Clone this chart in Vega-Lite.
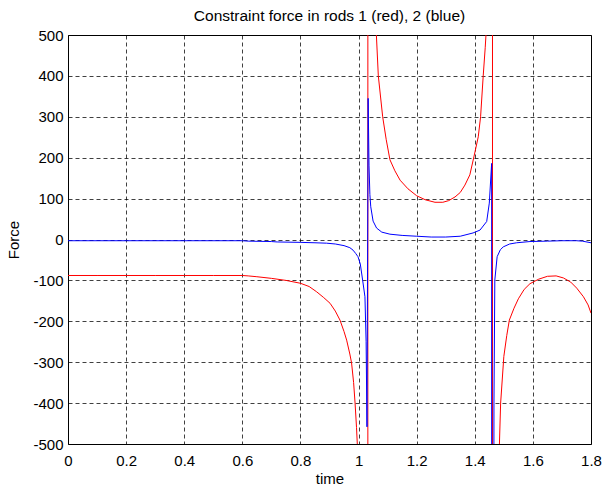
{
  "$schema": "https://vega.github.io/schema/vega-lite/v6.json",
  "width": 523,
  "height": 409,
  "autosize": {"type": "none"},
  "padding": {"left": 68, "top": 35, "right": 17, "bottom": 44},
  "background": "white",
  "config": {
    "view": {"stroke": "black", "strokeWidth": 1},
    "font": "Liberation Sans",
    "axis": {
      "labelFont": "Liberation Sans",
      "titleFont": "Liberation Sans",
      "labelFontSize": 15,
      "titleFontSize": 15,
      "titleFontWeight": "normal",
      "labelColor": "black",
      "titleColor": "black",
      "domain": false,
      "ticks": false,
      "grid": true,
      "gridColor": "#000000",
      "gridOpacity": 0.75,
      "gridDash": [4, 3],
      "gridWidth": 1,
      "labelFlush": false,
      "labelOverlap": false,
      "labelExpr": "'' + datum.value"
    }
  },
  "title": {
    "text": "Constraint force in rods 1 (red), 2 (blue)",
    "font": "Liberation Sans",
    "fontSize": 15.5,
    "fontWeight": "normal",
    "color": "black",
    "anchor": "middle",
    "offset": 4
  },
  "data": {
    "values": [
      {"rod": "1", "t": 0, "force": -88},
      {"rod": "1", "t": 0.1, "force": -88},
      {"rod": "1", "t": 0.2, "force": -88},
      {"rod": "1", "t": 0.3, "force": -88},
      {"rod": "1", "t": 0.4, "force": -88},
      {"rod": "1", "t": 0.5, "force": -88},
      {"rod": "1", "t": 0.6, "force": -88},
      {"rod": "1", "t": 0.62, "force": -89},
      {"rod": "1", "t": 0.65, "force": -91},
      {"rod": "1", "t": 0.7, "force": -95},
      {"rod": "1", "t": 0.75, "force": -100},
      {"rod": "1", "t": 0.8, "force": -107},
      {"rod": "1", "t": 0.83, "force": -115},
      {"rod": "1", "t": 0.856, "force": -128},
      {"rod": "1", "t": 0.88, "force": -142},
      {"rod": "1", "t": 0.902, "force": -156},
      {"rod": "1", "t": 0.92, "force": -175},
      {"rod": "1", "t": 0.936, "force": -197},
      {"rod": "1", "t": 0.95, "force": -225},
      {"rod": "1", "t": 0.959, "force": -246},
      {"rod": "1", "t": 0.97, "force": -280},
      {"rod": "1", "t": 0.976, "force": -302},
      {"rod": "1", "t": 0.983, "force": -350},
      {"rod": "1", "t": 0.988, "force": -400},
      {"rod": "1", "t": 0.993, "force": -460},
      {"rod": "1", "t": 0.997, "force": -520},
      {"rod": "1", "t": 1.005, "force": -700},
      {"rod": "1", "t": 1.015, "force": -1100},
      {"rod": "1", "t": 1.025, "force": -2500},
      {"rod": "1", "t": 1.031, "force": -20000},
      {"rod": "1", "t": 1.033, "force": 20000},
      {"rod": "1", "t": 1.045, "force": 1500},
      {"rod": "1", "t": 1.055, "force": 650},
      {"rod": "1", "t": 1.06, "force": 520},
      {"rod": "1", "t": 1.068, "force": 400},
      {"rod": "1", "t": 1.083, "force": 300},
      {"rod": "1", "t": 1.095, "force": 245},
      {"rod": "1", "t": 1.108, "force": 195},
      {"rod": "1", "t": 1.125, "force": 168},
      {"rod": "1", "t": 1.143, "force": 145},
      {"rod": "1", "t": 1.17, "force": 124},
      {"rod": "1", "t": 1.2, "force": 107},
      {"rod": "1", "t": 1.23, "force": 97},
      {"rod": "1", "t": 1.263, "force": 91},
      {"rod": "1", "t": 1.29, "force": 91},
      {"rod": "1", "t": 1.31, "force": 95},
      {"rod": "1", "t": 1.332, "force": 104},
      {"rod": "1", "t": 1.35, "force": 115},
      {"rod": "1", "t": 1.366, "force": 133},
      {"rod": "1", "t": 1.383, "force": 158},
      {"rod": "1", "t": 1.397, "force": 202},
      {"rod": "1", "t": 1.412, "force": 251},
      {"rod": "1", "t": 1.42, "force": 300},
      {"rod": "1", "t": 1.429, "force": 400},
      {"rod": "1", "t": 1.436, "force": 470},
      {"rod": "1", "t": 1.442, "force": 540},
      {"rod": "1", "t": 1.452, "force": 900},
      {"rod": "1", "t": 1.46, "force": 20000},
      {"rod": "1", "t": 1.462, "force": -20000},
      {"rod": "1", "t": 1.475, "force": -1200},
      {"rod": "1", "t": 1.484, "force": -520},
      {"rod": "1", "t": 1.489, "force": -400},
      {"rod": "1", "t": 1.5, "force": -286},
      {"rod": "1", "t": 1.51, "force": -235},
      {"rod": "1", "t": 1.519, "force": -197},
      {"rod": "1", "t": 1.535, "force": -168},
      {"rod": "1", "t": 1.55, "force": -145},
      {"rod": "1", "t": 1.57, "force": -122},
      {"rod": "1", "t": 1.59, "force": -108},
      {"rod": "1", "t": 1.62, "force": -97},
      {"rod": "1", "t": 1.65, "force": -90},
      {"rod": "1", "t": 1.68, "force": -89},
      {"rod": "1", "t": 1.705, "force": -94},
      {"rod": "1", "t": 1.73, "force": -104},
      {"rod": "1", "t": 1.751, "force": -119},
      {"rod": "1", "t": 1.774, "force": -140},
      {"rod": "1", "t": 1.79, "force": -160},
      {"rod": "1", "t": 1.8, "force": -180},
      {"rod": "2", "t": 0, "force": -3},
      {"rod": "2", "t": 0.3, "force": -3},
      {"rod": "2", "t": 0.6, "force": -3},
      {"rod": "2", "t": 0.62, "force": -4},
      {"rod": "2", "t": 0.7, "force": -5},
      {"rod": "2", "t": 0.72, "force": -6},
      {"rod": "2", "t": 0.8, "force": -7},
      {"rod": "2", "t": 0.85, "force": -8},
      {"rod": "2", "t": 0.89, "force": -9},
      {"rod": "2", "t": 0.92, "force": -11},
      {"rod": "2", "t": 0.95, "force": -15},
      {"rod": "2", "t": 0.97, "force": -20},
      {"rod": "2", "t": 0.981, "force": -26},
      {"rod": "2", "t": 0.99, "force": -34},
      {"rod": "2", "t": 0.998, "force": -42},
      {"rod": "2", "t": 1.006, "force": -60},
      {"rod": "2", "t": 1.014, "force": -99},
      {"rod": "2", "t": 1.022, "force": -140},
      {"rod": "2", "t": 1.026, "force": -250},
      {"rod": "2", "t": 1.029, "force": -458},
      {"rod": "2", "t": 1.033, "force": 345},
      {"rod": "2", "t": 1.036, "force": 180},
      {"rod": "2", "t": 1.039, "force": 110},
      {"rod": "2", "t": 1.042, "force": 80},
      {"rod": "2", "t": 1.05, "force": 45},
      {"rod": "2", "t": 1.062, "force": 28},
      {"rod": "2", "t": 1.08, "force": 18},
      {"rod": "2", "t": 1.108, "force": 13},
      {"rod": "2", "t": 1.15, "force": 10},
      {"rod": "2", "t": 1.2, "force": 8},
      {"rod": "2", "t": 1.25, "force": 6},
      {"rod": "2", "t": 1.3, "force": 6},
      {"rod": "2", "t": 1.35, "force": 8},
      {"rod": "2", "t": 1.394, "force": 16},
      {"rod": "2", "t": 1.418, "force": 23},
      {"rod": "2", "t": 1.441, "force": 44},
      {"rod": "2", "t": 1.45, "force": 89},
      {"rod": "2", "t": 1.458, "force": 186},
      {"rod": "2", "t": 1.462, "force": -20000},
      {"rod": "2", "t": 1.464, "force": -2000},
      {"rod": "2", "t": 1.466, "force": -400},
      {"rod": "2", "t": 1.469, "force": -99},
      {"rod": "2", "t": 1.477, "force": -42},
      {"rod": "2", "t": 1.488, "force": -25},
      {"rod": "2", "t": 1.498, "force": -18},
      {"rod": "2", "t": 1.52, "force": -11},
      {"rod": "2", "t": 1.544, "force": -8},
      {"rod": "2", "t": 1.59, "force": -5},
      {"rod": "2", "t": 1.65, "force": -4},
      {"rod": "2", "t": 1.7, "force": -3},
      {"rod": "2", "t": 1.75, "force": -3},
      {"rod": "2", "t": 1.77, "force": -4},
      {"rod": "2", "t": 1.8, "force": -8}
    ]
  },
  "encoding": {
    "x": {
      "field": "t",
      "type": "quantitative",
      "scale": {"domain": [0, 1.8], "nice": false, "zero": false},
      "axis": {
        "title": "time",
        "values": [0, 0.2, 0.4, 0.6, 0.8, 1, 1.2, 1.4, 1.6, 1.8],
        "labelPadding": 9,
        "titlePadding": 3
      }
    },
    "y": {
      "field": "force",
      "type": "quantitative",
      "scale": {"domain": [-500, 500], "nice": false, "zero": false},
      "axis": {
        "title": "Force",
        "values": [-500, -400, -300, -200, -100, 0, 100, 200, 300, 400, 500],
        "labelPadding": 5,
        "titlePadding": 11
      }
    }
  },
  "layer": [
    {
      "transform": [{"filter": "datum.rod === '1'"}],
      "mark": {"type": "line", "color": "#ff0000", "strokeWidth": 1, "clip": true}
    },
    {
      "transform": [{"filter": "datum.rod === '2'"}],
      "mark": {"type": "line", "color": "#0000ff", "strokeWidth": 1, "clip": true}
    }
  ]
}
